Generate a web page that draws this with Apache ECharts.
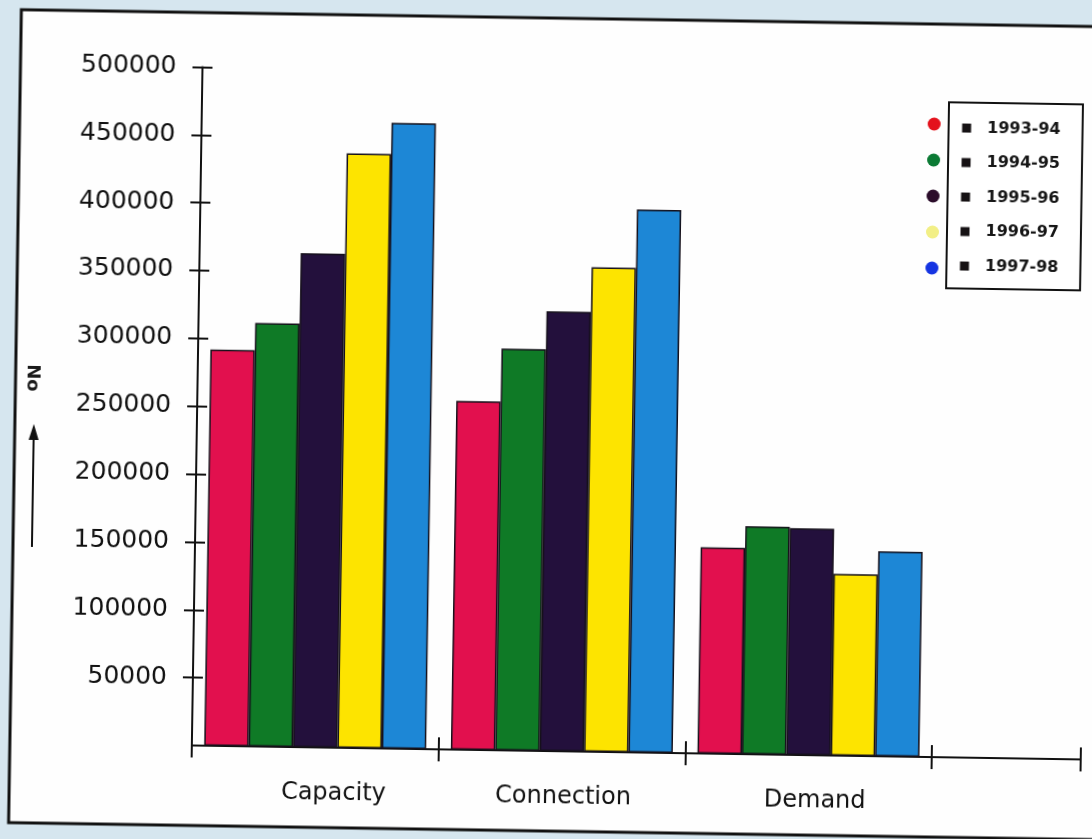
<!DOCTYPE html>
<html>
<head>
<meta charset="utf-8">
<script src="https://cdn.jsdelivr.net/npm/echarts@6/dist/echarts.min.js"></script>
<style>
  html, body { margin: 0; padding: 0; width: 1092px; height: 839px; overflow: hidden; background: #d6e6ef; }
  #chart { position: absolute; left: -20px; top: -20px; width: 1132px; height: 879px;
           transform: rotate(0.9deg); transform-origin: 50% 50%; }
</style>
</head>
<body>
<div id="chart"></div>
<script>
// Categories and yearly values
const categories = ['Capacity', 'Connection', 'Demand'];
const years = ['1993-94', '1994-95', '1995-96', '1996-97', '1997-98'];
const v1993 = [292000, 257000, 152000];
const v1994 = [312000, 296000, 168000];
const v1995 = [364000, 324000, 167000];
const v1996 = [438000, 357000, 134000];
const v1997 = [461000, 400000, 151000];
const yMin = 0, yMax = 500000, yStep = 50000;

const barColors = ['#e2104e', '#0f7a26', '#23103c', '#fde400', '#1d87d6'];
const dotColors = ['#e4121c', '#0b7a34', '#2b0c2a', '#f2ef86', '#1534e2'];
const labelShift = [38, 4, 14];

const seriesValues = [v1993, v1994, v1995, v1996, v1997];

// canvas is 20px larger on each side than the page
const O = 20;
const axisY = 751;          // x-axis line
const axisTop = 72.4;       // top of y axis
const gridLeft = 197;
const gridWidth = 740;
const extWidth = 149;

const chart = echarts.init(document.getElementById('chart'), null, { renderer: 'canvas' });

const lineStyle = { color: '#111', width: 2 };
const gridCommon = { top: axisTop + O, bottom: 879 - (axisY + O) };

const option = {
  animation: false,
  backgroundColor: '#d6e6ef',
  grid: [
    Object.assign({ left: gridLeft + O, width: gridWidth }, gridCommon),
    Object.assign({ left: gridLeft + gridWidth + O, width: extWidth }, gridCommon)
  ],
  xAxis: [
    {
      type: 'category', gridIndex: 0, position: 'bottom',
      data: categories.map((c, i) => ({ value: c, textStyle: { padding: [0, 0, 0, labelShift[i]] } })),
      axisLine: { lineStyle },
      axisTick: { show: true, length: 12, lineStyle },
      axisLabel: { margin: 34, fontFamily: 'DejaVu Sans', fontSize: 24, color: '#111' },
      splitLine: { show: false }
    },
    {
      type: 'category', gridIndex: 0, position: 'bottom', data: categories,
      axisLine: { show: false },
      axisTick: { show: true, inside: true, length: 12, lineStyle },
      axisLabel: { show: false },
      splitLine: { show: false }
    },
    {
      type: 'value', gridIndex: 1, position: 'bottom', min: 0, max: 1, interval: 1,
      axisLine: { lineStyle },
      axisTick: { show: true, length: 12, lineStyle },
      axisLabel: { show: false },
      splitLine: { show: false }
    },
    {
      type: 'value', gridIndex: 1, position: 'bottom', min: 0, max: 1, interval: 1,
      axisLine: { show: false },
      axisTick: { show: true, inside: true, length: 12, lineStyle },
      axisLabel: { show: false },
      splitLine: { show: false }
    }
  ],
  yAxis: [
    {
      type: 'value', gridIndex: 0, position: 'left', min: yMin, max: yMax, interval: yStep,
      axisLine: { show: true, lineStyle },
      axisTick: { show: true, length: 10, lineStyle },
      axisLabel: { margin: 26, showMinLabel: false, fontFamily: 'DejaVu Sans', fontSize: 25, color: '#111',
                   formatter: v => String(v) },
      splitLine: { show: false }
    },
    {
      type: 'value', gridIndex: 0, position: 'left', offset: 0, min: yMin, max: yMax, interval: yStep,
      axisLine: { show: false },
      axisTick: { show: true, inside: true, length: 10, lineStyle },
      axisLabel: { show: false },
      splitLine: { show: false }
    },
    { type: 'value', gridIndex: 1, min: 0, max: 1, show: false }
  ],
  legend: [
    {
      orient: 'vertical', left: 923 + O, top: 110 + O, padding: 0,
      selectedMode: false,
      icon: 'circle', itemWidth: 15, itemHeight: 13, itemGap: 20,
      data: years.map((n, i) => ({ name: n, itemStyle: { color: dotColors[i], borderWidth: 0 } })),
      formatter: () => ' ',
      textStyle: { fontSize: 12, lineHeight: 16 }
    },
    {
      orient: 'vertical', left: 944 + O, top: 96 + O,
      padding: [17.5, 22, 14.5, 13.5],
      borderColor: '#111', borderWidth: 2, backgroundColor: '#fff',
      selectedMode: false,
      icon: 'rect', itemWidth: 9, itemHeight: 9, itemGap: 18.5,
      data: years.map(n => ({ name: n, itemStyle: { color: '#161214', borderWidth: 0 } })),
      textStyle: { fontFamily: 'DejaVu Sans', fontWeight: 'bold', fontSize: 16, lineHeight: 16,
                   color: '#161616', padding: [0, 0, 0, 11] }
    }
  ],
  series: years.map((name, i) => ({
    type: 'bar', name,
    xAxisIndex: 0, yAxisIndex: 0,
    data: seriesValues[i],
    barGap: '0%', barCategoryGap: '10%',
    itemStyle: { color: barColors[i], borderColor: '#15101a', borderWidth: 1.5 }
  })),
  graphic: [
    {
      type: 'rect', z: -10,
      shape: { x: 15 + O, y: 18 + O, width: 1140, height: 813 },
      style: { fill: '#fefefe', stroke: '#111', lineWidth: 3 }
    },
    {
      type: 'line', z: 5,
      shape: { x1: 34 + O, y1: 555 + O, x2: 34 + O, y2: 444 + O },
      style: { stroke: '#111', lineWidth: 2 }
    },
    {
      type: 'polygon', z: 5,
      shape: { points: [[34 + O, 432 + O], [29 + O, 448 + O], [39 + O, 448 + O]] },
      style: { fill: '#111' }
    },
    {
      type: 'text', z: 5,
      x: 32 + O, y: 386 + O, rotation: -Math.PI / 2,
      style: { text: 'No', align: 'center', verticalAlign: 'middle',
               font: 'bold 18px "DejaVu Sans"', fill: '#1a1a1a' }
    }
  ]
};

chart.setOption(option);
</script>
</body>
</html>
